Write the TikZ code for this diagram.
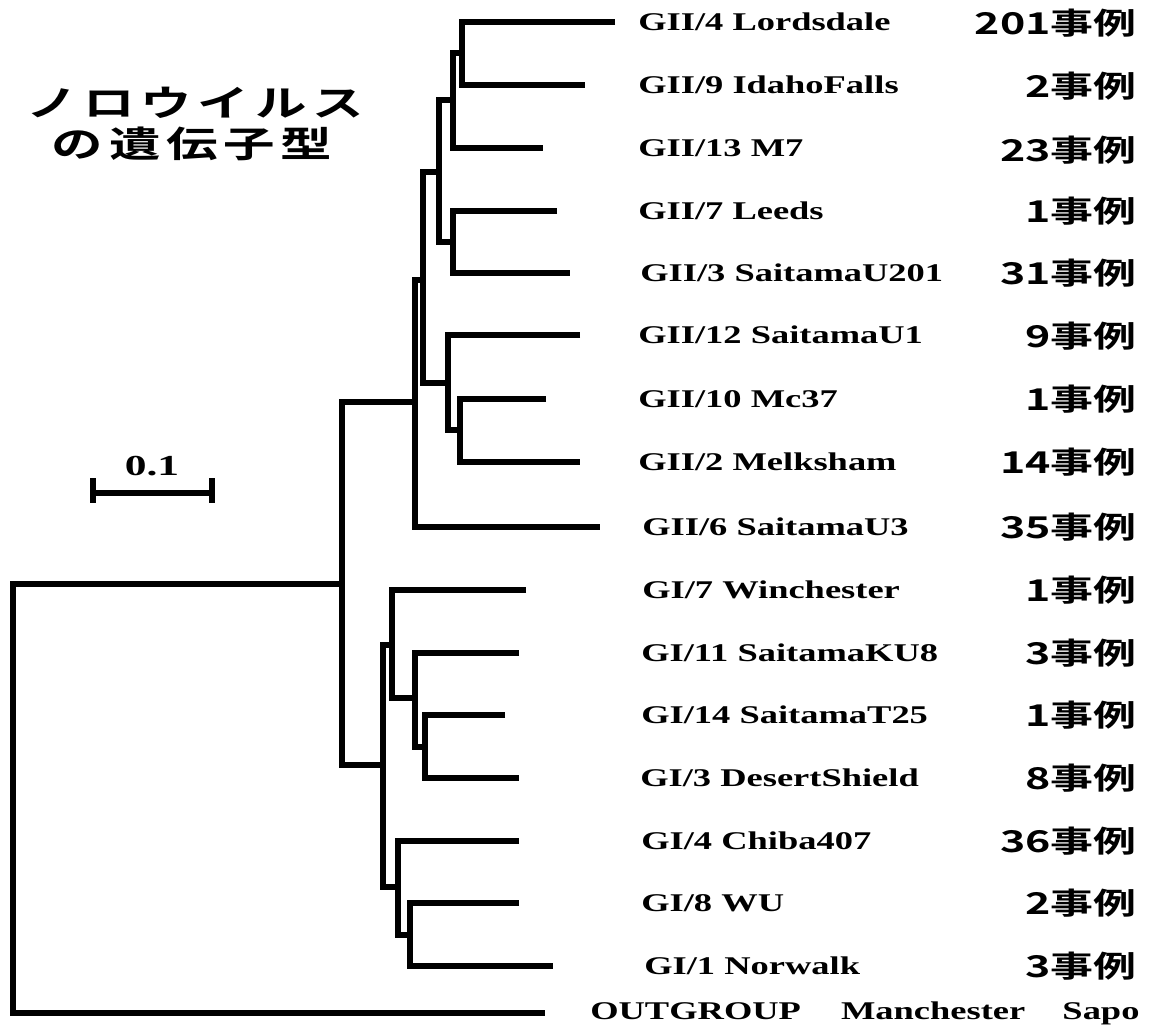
\documentclass[tikz,border=0pt]{standalone}
\usepackage{fontspec}
\setmainfont{Liberation Serif}
\newfontfamily\jp{Noto Sans CJK JP}[BoldFont={Noto Sans CJK JP Bold}]
\newcommand{\tsp}{\hspace{4pt}}
\begin{document}
\begin{tikzpicture}[x=1pt,y=-1pt,
  branch/.style={line width=6.5pt, line join=miter, line cap=butt},
  lab/.style={anchor=base west, inner sep=0pt, xscale=1.43, font=\fontsize{25.5}{25.5}\selectfont\bfseries},
  cnt/.style={anchor=base east, inner sep=0pt, xscale=1.43, font=\fontsize{30}{30}\selectfont\jp\bfseries},
  ttl/.style={anchor=center, inner sep=0pt, xscale=1.43, font=\fontsize{36}{36}\selectfont\jp\bfseries}]
\useasboundingbox (0,0) rectangle (1149,1025);

% leaf tips
\coordinate (tLord) at (615,22);
\coordinate (tIdaho) at (585,85);
\coordinate (tM7) at (543,148);
\coordinate (tLeeds) at (557,211);
\coordinate (tU201) at (570,273);
\coordinate (tU1) at (580,335);
\coordinate (tMc37) at (546,399);
\coordinate (tMelk) at (580,462);
\coordinate (tU3) at (600,527);
\coordinate (tWin) at (526,590);
\coordinate (tKU8) at (519,653);
\coordinate (tT25) at (505,715);
\coordinate (tDS) at (519,778);
\coordinate (tChiba) at (519,841);
\coordinate (tWU) at (519,903);
\coordinate (tNor) at (553,966);
\coordinate (tOG) at (545,1013);

% internal nodes
\coordinate (n1) at (462,53);
\coordinate (n2) at (453,100);
\coordinate (n3) at (453,242);
\coordinate (n4) at (439,172);
\coordinate (n5) at (460,430);
\coordinate (n6) at (448,383);
\coordinate (n7) at (423,280);
\coordinate (n8) at (415,402);
\coordinate (a3) at (425,747);
\coordinate (a2) at (415,698);
\coordinate (a1) at (392,645);
\coordinate (b2) at (410,935);
\coordinate (b1) at (398,887);
\coordinate (g1) at (383,765);
\coordinate (r2) at (342,584);
\coordinate (r1) at (13,800);

% branches
\draw[branch] (tLord) -| (n1) |- (tIdaho);
\draw[branch] (n1) -| (n2) |- (tM7);
\draw[branch] (tLeeds) -| (n3) |- (tU201);
\draw[branch] (n2) -| (n4) |- (n3);
\draw[branch] (tMc37) -| (n5) |- (tMelk);
\draw[branch] (tU1) -| (n6) |- (n5);
\draw[branch] (n4) -| (n7) |- (n6);
\draw[branch] (n7) -| (n8) |- (tU3);
\draw[branch] (tT25) -| (a3) |- (tDS);
\draw[branch] (tKU8) -| (a2) |- (a3);
\draw[branch] (tWin) -| (a1) |- (a2);
\draw[branch] (tWU) -| (b2) |- (tNor);
\draw[branch] (tChiba) -| (b1) |- (b2);
\draw[branch] (a1) -| (g1) |- (b1);
\draw[branch] (n8) -| (r2) |- (g1);
\draw[branch] (r2) -| (r1) |- (tOG);

% taxon labels
\node[lab] (lLord) at (638,30.5) {GII/4 Lordsdale};
\node[lab] (lIdaho) at (638,93.5) {GII/9 IdahoFalls};
\node[lab] (lM7) at (638,156.5) {GII/13 M7};
\node[lab] (lLeeds) at (638,219.5) {GII/7 Leeds};
\node[lab] (lU201) at (640,281.5) {GII/3 SaitamaU201};
\node[lab] (lU1) at (638,343.5) {GII/12 SaitamaU1};
\node[lab] (lMc37) at (638,407.5) {GII/10 Mc37};
\node[lab] (lMelk) at (638,470.5) {GII/2 Melksham};
\node[lab] (lU3) at (642,535.5) {GII/6 SaitamaU3};
\node[lab] (lWin) at (642,598.5) {GI/7 Winchester};
\node[lab] (lKU8) at (641,661.5) {GI/11 SaitamaKU8};
\node[lab] (lT25) at (641,723.5) {GI/14 SaitamaT25};
\node[lab] (lDS) at (640,786.5) {GI/3 DesertShield};
\node[lab] (lChiba) at (641,849.5) {GI/4 Chiba407};
\node[lab] (lWU) at (641,911.5) {GI/8 WU};
\node[lab] (lNor) at (644,974.5) {GI/1 Norwalk};
\node[lab] (lOG) at (590,1019) {OUTGROUP\hspace{28pt}Manchester\hspace{26pt}Sapo};

% case counts
\node[cnt] (cLord) at (1137,35) {201事例};
\node[cnt] (cIdaho) at (1137,98) {2事例};
\node[cnt] (cM7) at (1137,161) {23事例};
\node[cnt] (cLeeds) at (1137,222) {1事例};
\node[cnt] (cU201) at (1137,284) {31事例};
\node[cnt] (cU1) at (1137,347) {9事例};
\node[cnt] (cMc37) at (1137,410) {1事例};
\node[cnt] (cMelk) at (1137,473) {14事例};
\node[cnt] (cU3) at (1137,538) {35事例};
\node[cnt] (cWin) at (1137,601) {1事例};
\node[cnt] (cKU8) at (1137,664) {3事例};
\node[cnt] (cT25) at (1137,726) {1事例};
\node[cnt] (cDS) at (1137,789) {8事例};
\node[cnt] (cChiba) at (1137,852) {36事例};
\node[cnt] (cWU) at (1137,914) {2事例};
\node[cnt] (cNor) at (1137,977) {3事例};

% title
\node[ttl] (title1) at (195,103) {ノ\tsp ロ\tsp ウ\tsp イ\tsp ル\tsp ス};
\node[ttl] (title2) at (192,144) {の\tsp 遺\tsp 伝\tsp 子\tsp 型};

% scale bar
\coordinate (sbL) at (93,493);
\coordinate (sbR) at (212,493);
\draw[line width=6pt] (sbL) -- (sbR);
\draw[line width=6pt] (sbL) ++(0,-15) -- ++(0,25);
\draw[line width=6pt] (sbR) ++(0,-15) -- ++(0,25);
\node[anchor=center, inner sep=0pt, xscale=1.5, font=\fontsize{29}{29}\selectfont\bfseries] (sbT) at (152,466) {0.1};
\end{tikzpicture}
\end{document}
